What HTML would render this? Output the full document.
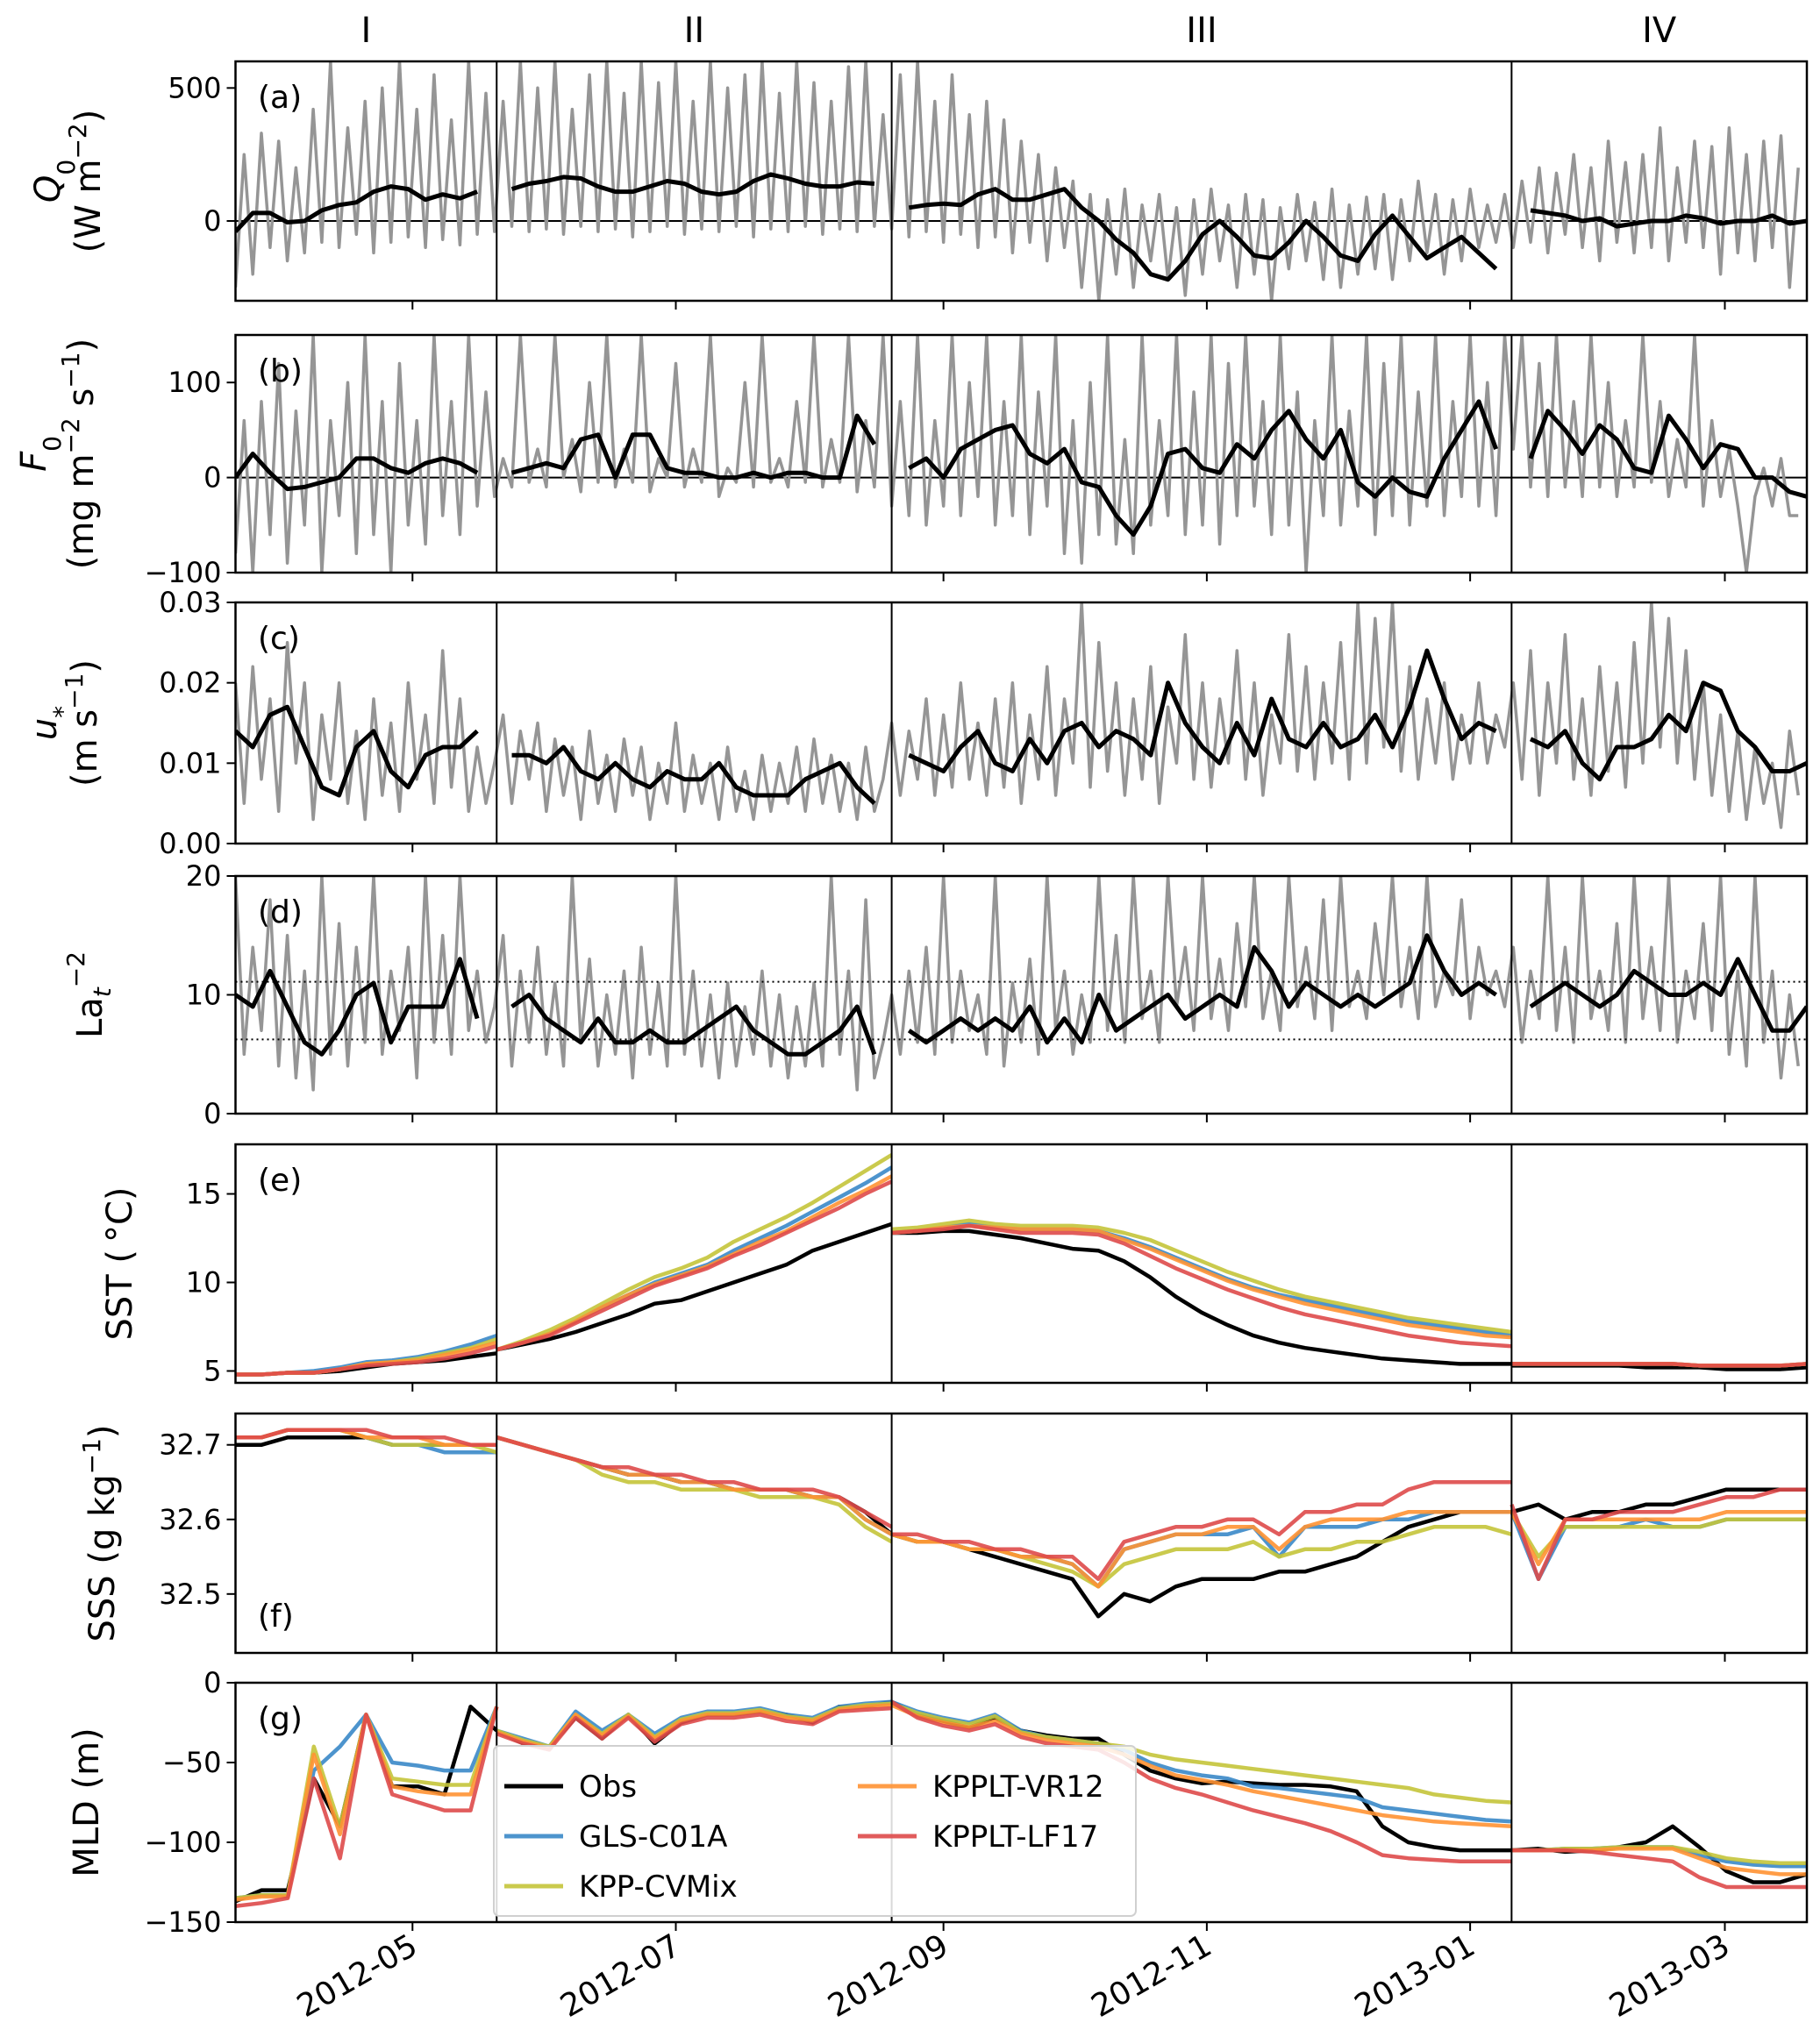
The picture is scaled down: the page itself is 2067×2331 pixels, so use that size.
<!DOCTYPE html>
<html><head><meta charset="utf-8"><style>
html,body{margin:0;padding:0;background:#fff}
svg{display:block;font-family:"DejaVu Sans","Liberation Sans",sans-serif}
</style></head><body>
<svg id="fig" width="2067" height="2331" viewBox="0 0 2067 2331" xmlns="http://www.w3.org/2000/svg"></svg>
<script>
// ---------- data ----------
const dateTickLabels = ["2012-05","2012-07","2012-09","2012-11","2013-01","2013-03"];
const dateTickDays = [41,102,164,225,286,345];
const segmentBounds = [0,60.5,152,295.6,364];
const segmentLabels = ["I","II","III","IV"];

const q0Raw = [-250,250,-200,330,-100,300,-150,200,-120,420,-80,600,-100,350,-50,450,-120,500,-80,600,-60,420,-100,550,-70,380,-90,600,-50,480,-40,
450,-20,600,-40,500,-30,600,-50,420,-20,550,-40,600,-30,480,-60,600,-40,520,-20,600,-50,450,-30,600,-40,500,-20,550,-60,600,-30,480,-40,600,-20,520,-50,450,-30,580,-40,600,-20,400,
-30,550,-60,600,-40,450,-80,550,-50,400,-100,450,-60,380,-120,300,-80,250,-150,200,-100,150,-250,100,-300,80,-200,120,-250,60,-150,100,-220,50,-280,80,-200,120,-150,60,-250,100,-200,80,-300,50,-180,100,-150,70,-220,120,-250,60,-200,90,-180,100,-220,80,-150,150,-120,100,-200,80,-150,120,-100,60,-80,100,
-100,150,-80,200,-120,180,-50,250,-100,200,-150,300,-80,220,-120,250,-100,350,-150,200,-80,300,-100,280,-200,350,-120,250,-150,300,-100,320,-250,200];
const q0Smooth = [-40,30,30,-5,0,40,60,70,110,130,120,80,100,85,110,null,
120,140,150,165,160,130,110,110,130,150,140,110,100,110,150,175,160,140,130,130,145,140,null,
50,60,65,60,100,120,80,80,100,120,50,0,-70,-120,-200,-220,-150,-50,0,-60,-130,-140,-80,0,-60,-130,-150,-50,20,-60,-140,-100,-60,-120,-180,null,
40,30,20,0,10,-20,-10,0,0,20,10,-10,0,0,20,-10,0];

const f0Raw = [-80,60,-100,80,-60,120,-90,70,-50,150,-100,60,-40,100,-80,150,-60,80,-100,120,-50,60,-70,150,-40,80,-60,150,-30,90,-20,
20,-10,150,-5,30,-10,150,0,40,-15,100,-5,150,-10,30,-5,150,-15,20,0,120,-10,30,-5,150,-20,10,-5,100,-10,150,-5,20,-10,80,-5,150,-10,40,-5,150,-15,60,-10,150,
-30,80,-40,150,-50,60,-30,150,-40,100,-20,150,-50,80,-40,150,-60,90,-30,150,-80,60,-90,100,-60,150,-70,40,-80,150,-50,60,-40,150,-60,90,-50,150,-70,120,-40,150,-30,80,-60,150,-50,90,-100,60,-40,150,-50,70,-30,150,-60,120,-40,150,-50,90,-30,150,-40,80,-20,150,-30,100,-40,150,
30,150,-10,120,-20,150,-10,80,-20,150,-10,100,-20,60,-10,150,-5,80,-20,40,-10,150,-30,60,-20,30,-30,-100,-20,10,-30,20,-40,-40];
const f0Smooth = [0,25,5,-12,-10,-5,0,20,20,10,5,15,20,15,5,null,
5,10,15,10,40,45,0,45,45,10,5,5,0,0,5,0,5,5,0,0,65,35,null,
10,20,0,30,40,50,55,25,15,30,-5,-10,-40,-60,-30,25,30,10,5,35,20,50,70,40,20,50,-5,-20,0,-15,-20,20,50,80,30,null,
20,70,50,25,55,40,10,5,65,40,10,35,30,0,0,-15,-20];

const ustarRaw = [0.02,0.005,0.022,0.008,0.018,0.004,0.025,0.01,0.02,0.003,0.016,0.008,0.02,0.005,0.014,0.003,0.018,0.006,0.015,0.004,0.02,0.008,0.016,0.005,0.024,0.007,0.018,0.004,0.012,0.005,0.01,
0.016,0.005,0.014,0.008,0.015,0.004,0.013,0.006,0.012,0.003,0.014,0.005,0.011,0.004,0.013,0.006,0.012,0.003,0.01,0.005,0.015,0.004,0.011,0.005,0.01,0.003,0.012,0.004,0.009,0.003,0.011,0.004,0.01,0.005,0.012,0.004,0.013,0.005,0.011,0.004,0.01,0.003,0.012,0.004,0.008,
0.015,0.006,0.014,0.008,0.018,0.006,0.016,0.007,0.02,0.008,0.015,0.006,0.018,0.007,0.02,0.005,0.016,0.008,0.022,0.006,0.018,0.01,0.03,0.007,0.025,0.009,0.02,0.006,0.018,0.008,0.022,0.005,0.017,0.01,0.026,0.008,0.02,0.007,0.018,0.01,0.024,0.008,0.02,0.006,0.016,0.01,0.026,0.009,0.022,0.008,0.02,0.01,0.025,0.008,0.03,0.01,0.028,0.012,0.03,0.009,0.022,0.008,0.018,0.01,0.02,0.008,0.016,0.01,0.02,0.01,0.016,0.012,
0.02,0.008,0.024,0.006,0.02,0.01,0.026,0.008,0.018,0.006,0.022,0.009,0.02,0.007,0.025,0.01,0.03,0.012,0.028,0.01,0.024,0.008,0.02,0.006,0.016,0.004,0.014,0.003,0.012,0.005,0.01,0.002,0.014,0.006];
const ustarSmooth = [0.014,0.012,0.016,0.017,0.012,0.007,0.006,0.012,0.014,0.009,0.007,0.011,0.012,0.012,0.014,null,
0.011,0.011,0.01,0.012,0.009,0.008,0.01,0.008,0.007,0.009,0.008,0.008,0.01,0.007,0.006,0.006,0.006,0.008,0.009,0.01,0.007,0.005,null,
0.011,0.01,0.009,0.012,0.014,0.01,0.009,0.013,0.01,0.014,0.015,0.012,0.014,0.013,0.011,0.02,0.015,0.012,0.01,0.015,0.011,0.018,0.013,0.012,0.015,0.012,0.013,0.016,0.012,0.017,0.024,0.018,0.013,0.015,0.014,null,
0.013,0.012,0.014,0.01,0.008,0.012,0.012,0.013,0.016,0.014,0.02,0.019,0.014,0.012,0.009,0.009,0.01];

const laRaw = [20,5,14,7,18,4,15,3,12,2,20,5,16,4,14,6,20,5,12,7,14,3,20,6,15,5,20,7,12,6,9,
15,4,12,6,14,5,11,4,20,6,13,4,10,5,12,3,14,5,11,4,20,5,12,4,10,3,11,4,9,5,12,4,10,3,9,4,11,4,20,5,12,2,18,3,6,
10,5,12,6,14,5,20,6,12,7,10,5,20,4,11,6,13,5,20,7,12,5,10,6,20,7,15,6,20,8,12,6,20,9,14,7,20,8,13,7,16,9,20,8,12,7,20,9,14,8,18,7,20,9,12,8,16,10,20,9,14,8,20,9,12,10,18,8,14,10,12,9,
14,6,12,8,20,7,14,6,20,8,12,7,16,6,20,8,14,7,20,6,12,8,16,7,20,5,12,4,20,6,12,3,10,4];
const laSmooth = [10,9,12,9,6,5,7,10,11,6,9,9,9,13,8,null,
9,10,8,7,6,8,6,6,7,6,6,7,8,9,7,6,5,5,6,7,9,5,null,
7,6,7,8,7,8,7,9,6,8,6,10,7,8,9,10,8,9,10,9,14,12,9,11,10,9,10,9,10,11,15,12,10,11,10,null,
9,10,11,10,9,10,12,11,10,10,11,10,13,10,7,7,9];
const laThresholds = [6.25,11.1];

const sstObs = [[4.8,4.8,4.9,4.9,5.0,5.2,5.4,5.5,5.6,5.8,6.0],
[6.2,6.5,6.8,7.2,7.7,8.2,8.8,9.0,9.5,10.0,10.5,11.0,11.8,12.3,12.8,13.3],
[12.8,12.8,12.9,12.9,12.7,12.5,12.2,11.9,11.8,11.2,10.3,9.2,8.3,7.6,7.0,6.6,6.3,6.1,5.9,5.7,5.6,5.5,5.4,5.4,5.4],
[5.3,5.3,5.3,5.3,5.3,5.2,5.2,5.2,5.1,5.1,5.1,5.2]];
const sstGLS = [[4.8,4.8,4.9,5.0,5.2,5.5,5.6,5.8,6.1,6.5,7.0],
[6.2,6.6,7.1,7.8,8.6,9.3,10.0,10.5,11.0,11.8,12.5,13.2,14.0,14.8,15.6,16.5],
[12.8,12.9,13.1,13.3,13.1,13.0,13.0,13.0,12.9,12.5,12.0,11.4,10.8,10.2,9.7,9.3,9.0,8.7,8.4,8.1,7.8,7.6,7.4,7.2,7.0],
[5.4,5.4,5.4,5.4,5.4,5.4,5.4,5.3,5.3,5.3,5.3,5.4]];
const sstCVMix = [[4.8,4.8,4.9,4.9,5.1,5.4,5.5,5.7,6.0,6.3,6.8],
[6.2,6.7,7.3,8.0,8.8,9.6,10.3,10.8,11.4,12.3,13.0,13.7,14.5,15.4,16.3,17.2],
[13.0,13.1,13.3,13.5,13.3,13.2,13.2,13.2,13.1,12.8,12.4,11.8,11.2,10.6,10.1,9.6,9.2,8.9,8.6,8.3,8.0,7.8,7.6,7.4,7.2],
[5.4,5.4,5.4,5.4,5.4,5.4,5.4,5.3,5.3,5.3,5.3,5.4]];
const sstVR12 = [[4.8,4.8,4.9,4.9,5.1,5.4,5.5,5.6,5.9,6.2,6.6],
[6.2,6.6,7.1,7.8,8.6,9.3,9.9,10.4,10.9,11.6,12.3,12.9,13.7,14.5,15.2,16.0],
[12.8,12.9,13.1,13.2,13.1,13.0,13.0,13.0,12.9,12.4,11.9,11.3,10.7,10.1,9.6,9.2,8.8,8.5,8.2,7.9,7.6,7.4,7.2,7.0,6.9],
[5.4,5.4,5.4,5.4,5.4,5.4,5.4,5.3,5.3,5.3,5.3,5.4]];
const sstLF17 = [[4.8,4.8,4.9,4.9,5.1,5.3,5.4,5.5,5.7,6.0,6.4],
[6.2,6.6,7.0,7.7,8.4,9.1,9.8,10.3,10.8,11.5,12.1,12.8,13.5,14.2,15.0,15.7],
[12.8,12.9,13.0,13.2,13.0,12.8,12.8,12.8,12.7,12.2,11.5,10.8,10.2,9.6,9.1,8.6,8.2,7.9,7.6,7.3,7.0,6.8,6.6,6.5,6.4],
[5.4,5.4,5.4,5.4,5.4,5.4,5.4,5.3,5.3,5.3,5.3,5.4]];

const sssObs = [[32.70,32.70,32.71,32.71,32.71,32.71,32.70,32.70,32.70,32.70,32.70],
[32.71,32.70,32.69,32.68,32.67,32.66,32.66,32.65,32.65,32.64,32.64,32.64,32.63,32.63,32.61,32.58],
[32.58,32.57,32.57,32.56,32.55,32.54,32.53,32.52,32.47,32.50,32.49,32.51,32.52,32.52,32.52,32.53,32.53,32.54,32.55,32.57,32.59,32.60,32.61,32.61,32.61],
[32.61,32.62,32.60,32.61,32.61,32.62,32.62,32.63,32.64,32.64,32.64,32.64]];
const sssGLS = [[32.71,32.71,32.72,32.72,32.72,32.71,32.70,32.70,32.69,32.69,32.69],
[32.71,32.70,32.69,32.68,32.67,32.66,32.66,32.65,32.65,32.64,32.64,32.64,32.63,32.63,32.60,32.58],
[32.58,32.57,32.57,32.56,32.56,32.55,32.55,32.54,32.51,32.56,32.57,32.58,32.58,32.58,32.59,32.55,32.59,32.59,32.59,32.60,32.60,32.61,32.61,32.61,32.61],
[32.61,32.52,32.59,32.59,32.59,32.60,32.59,32.59,32.60,32.60,32.60,32.60]];
const sssCVMix = [[32.71,32.71,32.72,32.72,32.72,32.71,32.70,32.70,32.70,32.70,32.69],
[32.71,32.70,32.69,32.68,32.66,32.65,32.65,32.64,32.64,32.64,32.63,32.63,32.63,32.62,32.59,32.57],
[32.58,32.57,32.57,32.56,32.56,32.55,32.54,32.53,32.51,32.54,32.55,32.56,32.56,32.56,32.57,32.55,32.56,32.56,32.57,32.57,32.58,32.59,32.59,32.59,32.58],
[32.61,32.55,32.59,32.59,32.59,32.59,32.59,32.59,32.60,32.60,32.60,32.60]];
const sssVR12 = [[32.71,32.71,32.72,32.72,32.72,32.71,32.71,32.71,32.70,32.70,32.70],
[32.71,32.70,32.69,32.68,32.67,32.66,32.66,32.65,32.65,32.64,32.64,32.64,32.63,32.63,32.60,32.58],
[32.58,32.57,32.57,32.56,32.56,32.55,32.55,32.54,32.51,32.56,32.57,32.58,32.58,32.59,32.59,32.56,32.59,32.60,32.60,32.60,32.61,32.61,32.61,32.61,32.61],
[32.61,32.54,32.60,32.60,32.60,32.60,32.60,32.60,32.61,32.61,32.61,32.61]];
const sssLF17 = [[32.71,32.71,32.72,32.72,32.72,32.72,32.71,32.71,32.71,32.70,32.70],
[32.71,32.70,32.69,32.68,32.67,32.67,32.66,32.66,32.65,32.65,32.64,32.64,32.64,32.63,32.61,32.59],
[32.58,32.58,32.57,32.57,32.56,32.56,32.55,32.55,32.52,32.57,32.58,32.59,32.59,32.60,32.60,32.58,32.61,32.61,32.62,32.62,32.64,32.65,32.65,32.65,32.65],
[32.62,32.52,32.60,32.60,32.61,32.61,32.61,32.62,32.63,32.63,32.64,32.64]];

const mldObs = [[-137,-130,-130,-60,-90,-20,-65,-65,-70,-15,-30],
[-30,-38,-40,-22,-35,-20,-38,-25,-20,-20,-18,-20,-25,-15,-15,-12],
[-12,-20,-24,-28,-22,-30,-33,-35,-35,-45,-55,-60,-63,-62,-63,-64,-64,-65,-68,-90,-100,-103,-105,-105,-105],
[-105,-104,-106,-105,-103,-100,-90,-103,-118,-125,-125,-120]];
const mldGLS = [[-135,-133,-133,-55,-40,-20,-50,-52,-55,-55,-15],
[-30,-35,-40,-18,-30,-20,-32,-22,-18,-18,-16,-20,-22,-15,-13,-12],
[-12,-18,-22,-25,-20,-30,-34,-36,-38,-42,-50,-55,-58,-60,-65,-66,-68,-70,-72,-78,-80,-82,-84,-86,-87],
[-105,-105,-104,-104,-103,-103,-103,-108,-112,-114,-115,-115]];
const mldCVMix = [[-135,-133,-133,-40,-90,-20,-60,-62,-64,-64,-15],
[-30,-36,-40,-20,-32,-20,-34,-23,-19,-19,-17,-21,-23,-16,-14,-13],
[-13,-19,-23,-26,-21,-31,-34,-36,-38,-40,-45,-48,-50,-52,-54,-56,-58,-60,-62,-64,-66,-70,-72,-74,-75],
[-105,-105,-104,-104,-103,-103,-103,-106,-110,-112,-113,-113]];
const mldVR12 = [[-136,-134,-134,-45,-95,-20,-65,-68,-70,-70,-15],
[-31,-37,-41,-20,-33,-21,-35,-24,-20,-20,-18,-22,-24,-17,-15,-14],
[-14,-21,-25,-28,-24,-32,-36,-38,-40,-45,-52,-58,-61,-64,-68,-71,-74,-77,-80,-83,-85,-87,-88,-89,-90],
[-105,-105,-105,-105,-104,-104,-104,-110,-116,-118,-120,-120]];
const mldLF17 = [[-140,-138,-135,-60,-110,-20,-70,-75,-80,-80,-15],
[-32,-38,-42,-22,-35,-22,-37,-26,-22,-22,-20,-24,-26,-18,-17,-16],
[-12,-22,-27,-30,-26,-34,-38,-40,-42,-50,-60,-66,-70,-75,-80,-84,-88,-93,-100,-108,-110,-111,-112,-112,-112],
[-105,-105,-105,-106,-108,-110,-112,-122,-128,-128,-128,-128]];

const legendLabels = ["Obs","GLS-C01A","KPP-CVMix","KPPLT-VR12","KPPLT-LF17"];

// ---------- layout ----------
const NS = "http://www.w3.org/2000/svg";
const svg = document.getElementById("fig");
const X0 = 268.5, X1 = 2060, DAYS = 364;
function xs(d){ return X0 + d*(X1-X0)/DAYS; }
const panels = [
 {key:"a", top:70, bot:343, ymin:-300, ymax:600, ticks:[0,500], fmt:v=>String(v)},
 {key:"b", top:382, bot:653, ymin:-100, ymax:150, ticks:[-100,0,100], fmt:v=>String(v)},
 {key:"c", top:687, bot:962, ymin:0, ymax:0.03, ticks:[0,0.01,0.02,0.03], fmt:v=>v.toFixed(2)},
 {key:"d", top:999, bot:1270, ymin:0, ymax:20, ticks:[0,10,20], fmt:v=>String(v)},
 {key:"e", top:1305, bot:1577, ymin:4.33, ymax:17.8, ticks:[5,10,15], fmt:v=>String(v)},
 {key:"f", top:1612, bot:1885, ymin:32.421, ymax:32.742, ticks:[32.5,32.6,32.7], fmt:v=>v.toFixed(1)},
 {key:"g", top:1919, bot:2192, ymin:-150, ymax:0, ticks:[-150,-100,-50,0], fmt:v=>String(v)}
];
function ys(p,v){ return p.bot - (v-p.ymin)/(p.ymax-p.ymin)*(p.bot-p.top); }
function mk(tag, attrs, parent){
  const e = document.createElementNS(NS, tag);
  for (const k in attrs) e.setAttribute(k, attrs[k]);
  (parent||svg).appendChild(e);
  return e;
}
function pathFrom(pts){
  let d = "", pen = false;
  for (const p of pts){
    if (p === null){ pen = false; continue; }
    d += (pen ? "L" : "M") + p[0].toFixed(1) + "," + p[1].toFixed(1);
    pen = true;
  }
  return d;
}
const defs = mk("defs", {});
panels.forEach(p=>{
  const cp = mk("clipPath", {id:"clip-"+p.key}, defs);
  mk("rect", {x:X0, y:p.top, width:X1-X0, height:p.bot-p.top}, cp);
});
function rawPts(p, arr, step){ return arr.map((v,i)=>[xs(i*step), ys(p,v)]); }
function smoothPts(p, arr, step){ return arr.map((v,i)=> v===null ? null : [xs(i*step), ys(p,v)]); }
function segPts(p, segs){
  const out = [];
  segs.forEach((vals, s)=>{
    const a = segmentBounds[s], b = segmentBounds[s+1];
    vals.forEach((v,j)=> out.push([xs(a + j*(b-a)/(vals.length-1)), ys(p,v)]));
    out.push(null);
  });
  return out;
}

const colors = ["#000000","#3a88c8","#c4c43a","#ff9233","#de4a4a"];

// ---------- panels ----------
panels.forEach((p, pi)=>{
  const g = mk("g", {});
  
  
  const plot = mk("g", {"clip-path":"url(#clip-"+p.key+")"}, g);
  if (p.key==="a" || p.key==="b"){
    const zl = mk("line", {x1:X0, x2:X1, y1:ys(p,0), y2:ys(p,0), stroke:"#000", "stroke-width":2}, plot);
    
    
  }
  let raw=null, sm=null, models=null;
  if (p.key==="a"){ raw=q0Raw; sm=q0Smooth; }
  if (p.key==="b"){ raw=f0Raw; sm=f0Smooth; }
  if (p.key==="c"){ raw=ustarRaw; sm=ustarSmooth; }
  if (p.key==="d"){ raw=laRaw; sm=laSmooth; }
  if (p.key==="e") models=[sstObs,sstGLS,sstCVMix,sstVR12,sstLF17];
  if (p.key==="f") models=[sssObs,sssGLS,sssCVMix,sssVR12,sssLF17];
  if (p.key==="g") models=[mldObs,mldGLS,mldCVMix,mldVR12,mldLF17];
  if (raw){
    const r = mk("path", {d:pathFrom(rawPts(p, raw, 2)), fill:"none", stroke:"#959595", "stroke-width":3.5, "stroke-linejoin":"round"}, plot);
    
    
    const s = mk("path", {d:pathFrom(smoothPts(p, sm, 4)), fill:"none", stroke:"#000", "stroke-width":5, "stroke-linejoin":"round"}, plot);
    
    
  }
  if (p.key==="d"){
    laThresholds.forEach(t=>{
      const l = mk("line", {x1:X0, x2:X1, y1:ys(p,t), y2:ys(p,t), stroke:"#000", "stroke-width":2, "stroke-dasharray":"2,4"}, plot);
      
      
    });
  }
  if (models){
    [0,1,2,3,4].forEach(k=>{
      const l = mk("path", {d:pathFrom(segPts(p, models[k])), fill:"none", stroke:colors[k], "stroke-width":4.5, "stroke-opacity":k===0?1:0.9, "stroke-linejoin":"round"}, plot);
      
      
    });
  }
  segmentBounds.slice(1,4).forEach(b=>{
    const l = mk("line", {x1:xs(b), x2:xs(b), y1:p.top, y2:p.bot, stroke:"#000", "stroke-width":2}, g);
    
    
  });
  const fr = mk("rect", {x:X0, y:p.top, width:X1-X0, height:p.bot-p.top, fill:"none", stroke:"#000", "stroke-width":2.5}, g);
  
  
  p.ticks.forEach(t=>{
    const y = ys(p,t);
    mk("line", {x1:X0-10, x2:X0, y1:y, y2:y, stroke:"#000", "stroke-width":2}, g);
    const tx = mk("text", {x:X0-16, y:y+11, "text-anchor":"end", "font-size":32}, g);
    tx.textContent = p.fmt(t).replace("-","\u2212");
    
    
  });
  dateTickDays.forEach((d,i)=>{
    const x = xs(d);
    mk("line", {x1:x, x2:x, y1:p.bot, y2:p.bot+10, stroke:"#000", "stroke-width":2}, g);
    if (pi===panels.length-1){
      const tx = mk("text", {x:0, y:0, "text-anchor":"end", "font-size":36, transform:"translate("+(x+8)+","+(p.bot+34)+") rotate(-30)"}, g);
      tx.textContent = dateTickLabels[i];
      
      
    }
  });
  const ly = p.key==="f" ? p.bot-30 : p.top+53;
  const pl = mk("text", {x:294, y:ly, "font-size":36}, g);
  pl.textContent = "(" + p.key + ")";
  
  
});

segmentLabels.forEach((s,i)=>{
  const x = (xs(segmentBounds[i]) + xs(segmentBounds[i+1]))/2;
  const t = mk("text", {x:x, y:48, "text-anchor":"middle", "font-size":40}, svg);
  t.textContent = s;
  
  
});

function ytitle(x, p, html, name){
  const cy = (p.top+p.bot)/2;
  const t = mk("text", {x:0, y:0, "text-anchor":"middle", "font-size":40, transform:"translate("+x+","+cy+") rotate(-90)"}, svg);
  t.innerHTML = html;
  
  
}
const sup = s=>'<tspan baseline-shift="super" font-size="28">'+s+'</tspan>';
const sub = s=>'<tspan baseline-shift="sub" font-size="28">'+s+'</tspan>';
ytitle(68, panels[0], '<tspan font-style="italic">Q</tspan>'+sub('0'), 'y-axis-title-a');
ytitle(114, panels[0], '(W m'+sup('\u22122')+')', 'y-axis-unit-a');
ytitle(52, panels[1], '<tspan font-style="italic">F</tspan>'+sub('0'), 'y-axis-title-b');
ytitle(106, panels[1], '(mg m'+sup('\u22122')+' s'+sup('\u22121')+')', 'y-axis-unit-b');
ytitle(64, panels[2], '<tspan font-style="italic">u</tspan>'+sub('*'), 'y-axis-title-c');
ytitle(110, panels[2], '(m s'+sup('\u22121')+')', 'y-axis-unit-c');
ytitle(116, panels[3], 'La'+'<tspan dy="10" font-size="28" font-style="italic">t</tspan><tspan dy="-30" font-size="28">\u22122</tspan>', 'y-axis-title-d');
ytitle(150, panels[4], 'SST (\u2009\u00b0C)', 'y-axis-title-e');
ytitle(130, panels[5], 'SSS (g kg'+sup('\u22121')+')', 'y-axis-title-f');
ytitle(112, panels[6], 'MLD (m)', 'y-axis-title-g');

const lg = mk("g", {});


mk("rect", {x:563, y:1991, width:732, height:194, rx:6, fill:"#fff", "fill-opacity":0.85, stroke:"#d0d0d0", "stroke-width":2}, lg);
const legendPos = [[575,2037],[575,2094],[575,2151],[978,2037],[978,2094]];
legendLabels.forEach((lab,k)=>{
  const [lx,ly] = legendPos[k];
  const ln = mk("line", {x1:lx, x2:lx+67, y1:ly, y2:ly, stroke:colors[k], "stroke-width":5, "stroke-opacity":k===0?1:0.9}, lg);
  
  
  const tx = mk("text", {x:lx+85, y:ly+12, "font-size":34}, lg);
  tx.textContent = lab;
  
  
});
</script>
</body></html>
